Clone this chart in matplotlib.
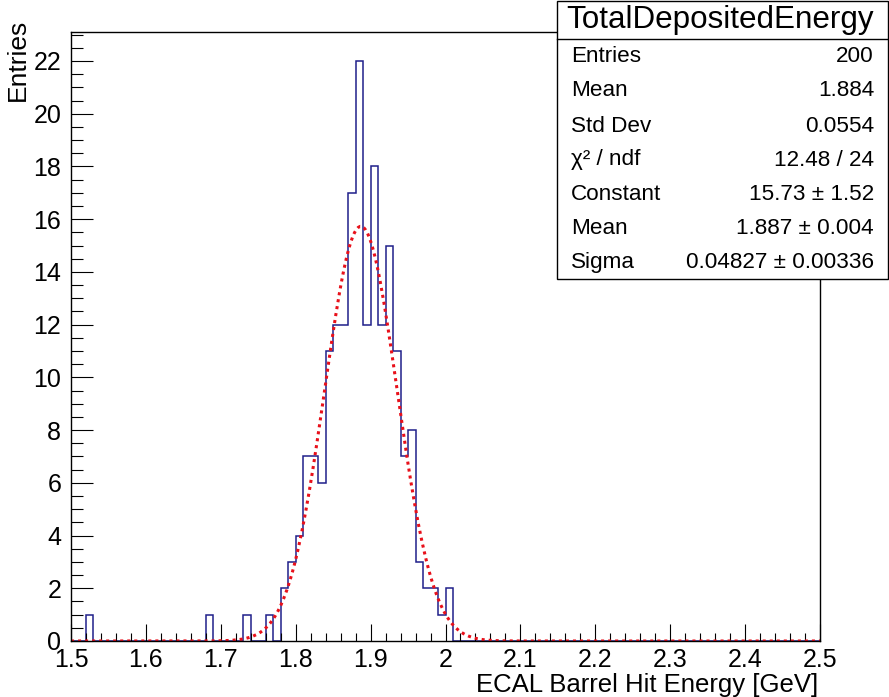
import numpy as np
import matplotlib
matplotlib.use("Agg")
import matplotlib.pyplot as plt
from matplotlib.patches import Rectangle
from matplotlib.lines import Line2D
from matplotlib.ticker import MultipleLocator

plt.rcParams['font.family'] = ['Liberation Sans', 'DejaVu Sans']

# ---- data ----
x_min, x_max, n_bins = 1.5, 2.5, 100
bin_low_edges = [1.52, 1.68, 1.73, 1.76, 1.78, 1.79, 1.80, 1.81, 1.82, 1.83,
                 1.84, 1.85, 1.86, 1.87, 1.88, 1.89, 1.90, 1.91, 1.92, 1.93,
                 1.94, 1.95, 1.96, 1.97, 1.98, 1.99, 2.00]
bin_counts = [1, 1, 1, 1, 2, 3, 4, 7, 7, 6,
              11, 12, 12, 17, 22, 12, 18, 12, 15, 11,
              7, 8, 3, 2, 2, 1, 2]
fit_constant, fit_mean, fit_sigma = 15.73, 1.887, 0.04827
stats_title = "TotalDepositedEnergy"
stats_labels = ["Entries", "Mean", "Std Dev", "χ² / ndf", "Constant", "Mean", "Sigma"]
stats_values = ["200", "1.884", "0.0554", "12.48 / 24", "15.73 ± 1.52",
                "1.887 ± 0.004", "0.04827 ± 0.00336"]
x_title = "ECAL Barrel Hit Energy [GeV]"
y_title = "Entries"

# ---- build histogram ----
edges = np.linspace(x_min, x_max, n_bins + 1)
counts = np.zeros(n_bins)
for lo, c in zip(bin_low_edges, bin_counts):
    idx = int(round((lo - x_min) / (x_max - x_min) * n_bins))
    counts[idx] = c

W, H = 889, 697
fig = plt.figure(figsize=(W / 100, H / 100), dpi=100)
ax = fig.add_axes([71 / W, 1 - 641 / H, (820 - 71) / W, (641 - 32) / H])

ax.stairs(counts, edges, color='#1f1f8a', linewidth=1.1, baseline=0)

xf = np.linspace(x_min, x_max, 400)
yf = fit_constant * np.exp(-0.5 * ((xf - fit_mean) / fit_sigma) ** 2)
ax.plot(xf, yf, color='#e8101a', linewidth=2.2, linestyle=(0, (1.0, 1.3)))

ax.set_xlim(x_min, x_max)
ax.set_ylim(0, max(bin_counts) * 1.05)

ax.xaxis.set_major_locator(MultipleLocator(0.1))
ax.xaxis.set_minor_locator(MultipleLocator(0.02))
ax.yaxis.set_major_locator(MultipleLocator(2))
ax.yaxis.set_minor_locator(MultipleLocator(0.5))
ax.tick_params(axis='both', which='both', direction='in', top=False, right=False,
               color='black', width=0.8, labelsize=18)
ax.tick_params(axis='x', which='major', length=12.2, pad=5)
ax.tick_params(axis='x', which='minor', length=5.8)
ax.tick_params(axis='y', which='major', length=15.8, pad=7)
ax.tick_params(axis='y', which='minor', length=8.6)
ax.xaxis.set_major_formatter(plt.FuncFormatter(lambda v, p: f"{v:g}"))
for s in ax.spines.values():
    s.set_linewidth(1.0)
    s.set_color('black')

fig.text(818 / W, 1 - 685 / H, x_title, ha='right', va='center', fontsize=18.5)
fig.text(18 / W, 1 - 19 / H, y_title, ha='center', va='top', rotation=90, fontsize=19)

# ---- stats box ----
bx0, bx1, by0, by1 = 557, 888, 1, 279
fig.patches.append(Rectangle((bx0 / W, 1 - by1 / H), (bx1 - bx0) / W, (by1 - by0) / H,
                             transform=fig.transFigure, facecolor='white',
                             edgecolor='black', linewidth=1.0, zorder=10))
fig.lines.append(Line2D([bx0 / W, bx1 / W], [1 - 39 / H, 1 - 39 / H],
                        transform=fig.transFigure, color='black', linewidth=1.0, zorder=11))
fig.text(720 / W, 1 - 20 / H, stats_title, ha='center', va='center',
         fontsize=22.6, zorder=12)
row_y = [57, 91, 126, 160, 194, 228, 262]
for lab, val, yy in zip(stats_labels, stats_values, row_y):
    fig.text(571 / W, 1 - yy / H, lab, ha='left', va='center', fontsize=16.2, zorder=12)
    fig.text(874 / W, 1 - yy / H, val, ha='right', va='center', fontsize=16.2, zorder=12)

fig.savefig("out.png", dpi=100)
